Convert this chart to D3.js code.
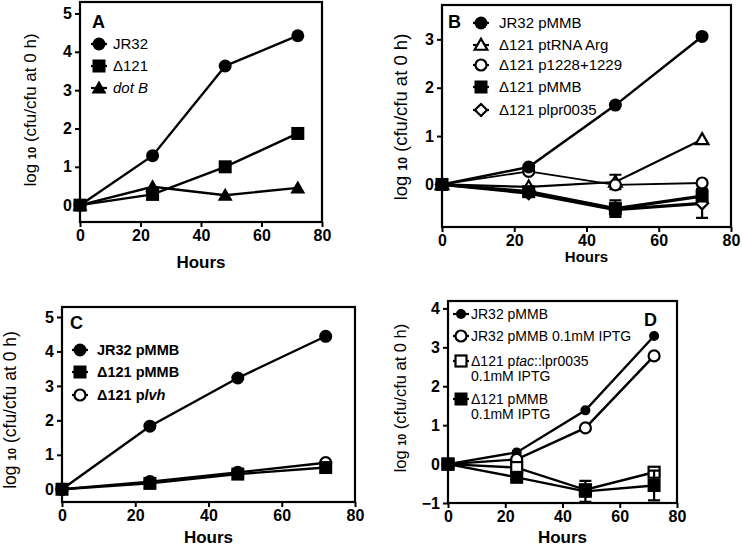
<!DOCTYPE html>
<html>
<head>
<meta charset="utf-8">
<script src="https://cdn.jsdelivr.net/npm/d3@7"></script>
<style>
  body { margin: 0; background: #fff; }
  svg { display: block; font-family: "Liberation Sans", Arial, sans-serif; }
</style>
</head>
<body>
<div id="chart"></div>
<script>
// time points (hours) shared by every series
const hours = [0, 24, 48, 72];
const xTicks = [0, 20, 40, 60, 80];

// panel A
const aJR32 = [0, 1.29, 3.63, 4.42];
const aD121 = [0, 0.28, 1.0, 1.87];
const aDotB = [0, 0.48, 0.26, 0.45];

// panel B
const bJR32 = [0, 0.36, 1.64, 3.06];
const bTRNA = [0, -0.05, 0.05, 0.93];
const bTRNAErr = [0, 0, 0.15, 0];
const bP1228 = [0, 0.27, -0.01, 0.03];
const bPMMB = [0, -0.15, -0.5, -0.24];
const bPMMBErr = [0, 0.06, 0.17, 0.1];
const bPlpr = [0, -0.18, -0.52, -0.39];
const bPlprErr = [0, 0.05, 0.12, 0.3];

// panel C
const cJR32 = [0, 1.83, 3.23, 4.44];
const cPMMB = [0, 0.17, 0.44, 0.63];
const cPlvh = [0, 0.22, 0.49, 0.77];

// panel D
const dJR32 = [0, 0.3, 1.38, 3.29];
const dJR32I = [0, 0.12, 0.93, 2.78];
const dPtac = [0, -0.09, -0.66, -0.21];
const dPtacErr = [0, 0.08, 0.08, 0.05];
const dPMMB = [0, -0.34, -0.7, -0.55];
const dPMMBErr = [0, 0.05, 0.27, 0.38];

const width = 742, height = 548;
const svg = d3.select("#chart").append("svg")
    .attr("width", width)
    .attr("height", height);

const panels = [
  {
    letter: "A", letterPos: [92, 28], frame: {x0: 80, x1: 322, y0: 2, y1: 222},
    yDomain: [-0.44, 5.3], yTicks: [0, 1, 2, 3, 4, 5],
    yLabel: {x: 30, y: 110, size: 17}, hours: {y: 268, size: 17},
    legend: {x: 99, tx: 113, size: 15, bold: false},
    series: [
      {name: ["JR32"], vals: aJR32, sym: "circle", fill: true, ly: 44},
      {name: ["Δ121"], vals: aD121, sym: "square", fill: true, ly: 66},
      {name: [["dot B", true]], vals: aDotB, sym: "triangle", fill: true, ly: 88}
    ]
  },
  {
    letter: "B", letterPos: [448, 28], frame: {x0: 442, x1: 731, y0: 5, y1: 227},
    yDomain: [-0.88, 3.71], yTicks: [0, 1, 2, 3],
    yLabel: {x: 401, y: 117, size: 18.5}, hours: {y: 262, size: 15},
    legend: {x: 481, tx: 499, size: 15, bold: false},
    series: [
      {name: ["Δ121 ptRNA Arg"], vals: bTRNA, err: bTRNAErr, sym: "triangle", fill: false, ly: 45, w: 2.2},
      {name: ["Δ121 p1228+1229"], vals: bP1228, sym: "circle", fill: false, ly: 65, w: 1.8},
      {name: ["Δ121 plpr0035"], vals: bPlpr, err: bPlprErr, sym: "diamond", fill: false, ly: 110, w: 3.2},
      {name: ["Δ121 pMMB"], vals: bPMMB, err: bPMMBErr, sym: "square", fill: true, ly: 87, w: 3.2},
      {name: ["JR32 pMMB"], vals: bJR32, sym: "circle", fill: true, ly: 23, w: 2.5}
    ]
  },
  {
    letter: "C", letterPos: [70, 329], frame: {x0: 62, x1: 355, y0: 307, y1: 502},
    yDomain: [-0.37, 5.29], yTicks: [0, 1, 2, 3, 4, 5],
    yLabel: {x: 10, y: 410, size: 17.5}, hours: {y: 543, size: 17},
    legend: {x: 80, tx: 97, size: 14.5, bold: true},
    series: [
      {name: ["Δ121 p", ["lvh", true]], vals: cPlvh, sym: "circle", fill: false, ly: 395},
      {name: ["Δ121 pMMB"], vals: cPMMB, sym: "square", fill: true, ly: 372},
      {name: ["JR32 pMMB"], vals: cJR32, sym: "circle", fill: true, ly: 350}
    ]
  },
  {
    letter: "D", letterPos: [644, 326], frame: {x0: 448, x1: 677, y0: 301, y1: 503},
    yDomain: [-1, 4.19], yTicks: [-1, 0, 1, 2, 3, 4],
    yLabel: {x: 400, y: 398, size: 16.5}, hours: {y: 543, size: 17},
    legend: {x: 461, tx: 471, size: 14, bold: false},
    series: [
      {name: ["JR32 pMMB"], vals: dJR32, sym: "circle", fill: true, ly: 314, r: 5},
      {name: ["JR32 pMMB 0.1mM IPTG"], vals: dJR32I, sym: "circle", fill: false, ly: 336},
      {name: ["Δ121 p", ["tac", true], "::lpr0035"], name2: "0.1mM IPTG", vals: dPtac, err: dPtacErr, sym: "square", fill: false, ly: 361},
      {name: ["Δ121 pMMB"], name2: "0.1mM IPTG", vals: dPMMB, err: dPMMBErr, sym: "square", fill: true, ly: 399}
    ]
  }
];

function drawMarker(g, sym, fill, cx, cy, r) {
  r = r || 6.5;
  const stroke = fill ? 0 : 2.2;
  const rr = fill ? r : r - 1;
  const common = el => el.attr("fill", fill ? "#000" : "#fff")
      .attr("stroke", "#000").attr("stroke-width", stroke);
  if (sym === "circle") {
    common(g.append("circle").attr("cx", cx).attr("cy", cy).attr("r", rr));
  } else if (sym === "square") {
    common(g.append("rect").attr("x", cx - rr).attr("y", cy - rr)
      .attr("width", 2 * rr).attr("height", 2 * rr));
  } else if (sym === "triangle") {
    const h = rr * 1.15;
    common(g.append("path").attr("d",
      `M${cx},${cy - h}L${cx + h},${cy + h * 0.75}L${cx - h},${cy + h * 0.75}Z`));
  } else if (sym === "diamond") {
    const h = rr * 1.1;
    common(g.append("path").attr("d",
      `M${cx},${cy - h}L${cx + h},${cy}L${cx},${cy + h}L${cx - h},${cy}Z`));
  }
}

function addRich(textSel, parts) {
  parts.forEach(p => {
    if (Array.isArray(p)) {
      textSel.append("tspan").attr("font-style", "italic").text(p[0]);
    } else {
      textSel.append("tspan").text(p);
    }
  });
}

panels.forEach(p => {
  const f = p.frame;
  const x = d3.scaleLinear().domain([0, 80]).range([f.x0, f.x1]);
  const y = d3.scaleLinear().domain(p.yDomain).range([f.y1, f.y0]);
  const g = svg.append("g");

  // frame
  g.append("rect")
    .attr("x", f.x0).attr("y", f.y0)
    .attr("width", f.x1 - f.x0).attr("height", f.y1 - f.y0)
    .attr("fill", "none").attr("stroke", "#000").attr("stroke-width", 2.2);

  // axes
  const xAxis = g.append("g")
    .attr("transform", `translate(0,${f.y1})`)
    .call(d3.axisBottom(x).tickValues(xTicks).tickFormat(d3.format("d")).tickSize(5).tickPadding(3));
  const yAxis = g.append("g")
    .attr("transform", `translate(${f.x0},0)`)
    .call(d3.axisLeft(y).tickValues(p.yTicks).tickFormat(d3.format("d")).tickSize(5).tickPadding(3));
  [xAxis, yAxis].forEach(ax => {
    ax.select(".domain").remove();
    ax.selectAll(".tick line").attr("stroke-width", 2);
    ax.selectAll(".tick text")
      .attr("font-size", 16).attr("font-weight", "bold")
      .attr("font-family", "Liberation Sans, Arial, sans-serif").attr("fill", "#000");
  });

  // axis titles
  g.append("text")
    .attr("x", (f.x0 + f.x1) / 2).attr("y", p.hours.y)
    .attr("text-anchor", "middle")
    .attr("font-size", p.hours.size).attr("font-weight", "bold")
    .text("Hours");

  const yl = g.append("text")
    .attr("transform", `translate(${p.yLabel.x},${p.yLabel.y}) rotate(-90)`)
    .attr("text-anchor", "middle")
    .attr("dy", "0.35em")
    .attr("font-size", p.yLabel.size);
  yl.append("tspan").text("log ");
  yl.append("tspan").attr("font-size", p.yLabel.size * 0.65).attr("font-weight", "bold").text("10");
  yl.append("tspan").text(" (cfu/cfu at 0 h)");

  // panel letter
  g.append("text")
    .attr("x", p.letterPos[0]).attr("y", p.letterPos[1])
    .attr("font-size", 18).attr("font-weight", "bold")
    .text(p.letter);

  const line = d3.line().x((d, i) => x(hours[i])).y(d => y(d));

  p.series.forEach(s => {
    const sg = g.append("g");
    sg.append("path")
      .attr("d", line(s.vals))
      .attr("fill", "none").attr("stroke", "#000")
      .attr("stroke-width", s.w || 2.4);
    if (s.err) {
      s.vals.forEach((v, i) => {
        const e = s.err[i];
        if (!e) return;
        const cx = x(hours[i]);
        sg.append("path")
          .attr("d", `M${cx},${y(v - e)}V${y(v + e)}M${cx - 6},${y(v - e)}H${cx + 6}M${cx - 6},${y(v + e)}H${cx + 6}`)
          .attr("stroke", "#000").attr("stroke-width", 2.2).attr("fill", "none");
      });
    }
    s.vals.forEach((v, i) => drawMarker(sg, s.sym, s.fill, x(hours[i]), y(v), s.r));

    // legend entry
    const L = p.legend;
    g.append("line")
      .attr("x1", L.x - 8).attr("x2", L.x + 8)
      .attr("y1", s.ly).attr("y2", s.ly)
      .attr("stroke", "#000").attr("stroke-width", 2.2);
    drawMarker(g, s.sym, s.fill, L.x, s.ly, s.r);
    const t = g.append("text")
      .attr("x", L.tx).attr("y", s.ly)
      .attr("dy", "0.36em")
      .attr("font-size", L.size)
      .attr("font-weight", L.bold ? "bold" : "normal");
    addRich(t, s.name);
    if (s.name2) {
      g.append("text")
        .attr("x", L.tx).attr("y", s.ly + 15)
        .attr("dy", "0.36em")
        .attr("font-size", L.size)
        .text(s.name2);
    }
  });
});
</script>
</body>
</html>
